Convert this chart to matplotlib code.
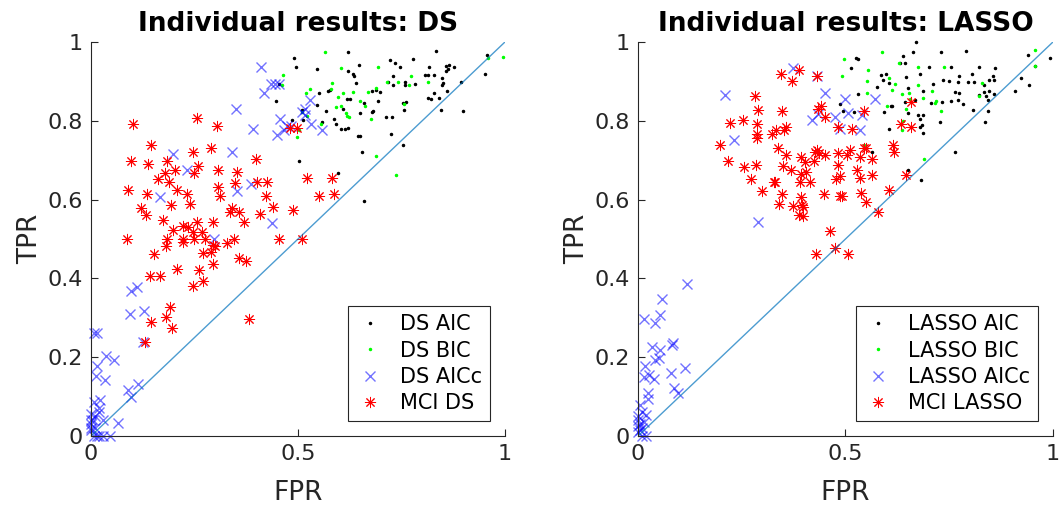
import numpy as np
import matplotlib
matplotlib.use('Agg')
import matplotlib.pyplot as plt

# ---------------- DS panel ----------------
ds_aic = [
    (0.491, 0.959), (0.496, 0.936), (0.622, 0.976), (0.547, 0.932), (0.647, 0.942), (0.622, 0.927),
    (0.634, 0.920), (0.635, 0.914), (0.722, 0.955), (0.735, 0.947), (0.747, 0.937), (0.779, 0.956),
    (0.833, 0.978), (0.816, 0.937), (0.815, 0.917), (0.829, 0.917), (0.858, 0.939), (0.865, 0.942),
    (0.878, 0.937), (0.862, 0.931), (0.857, 0.926), (0.848, 0.910), (0.851, 0.897), (0.849, 0.891),
    (0.894, 0.899), (0.956, 0.968), (0.953, 0.920), (0.729, 0.915), (0.717, 0.898), (0.730, 0.890),
    (0.759, 0.898), (0.758, 0.890), (0.782, 0.893), (0.808, 0.916), (0.448, 0.850), (0.455, 0.893),
    (0.552, 0.871), (0.572, 0.876), (0.578, 0.879), (0.640, 0.895), (0.618, 0.856), (0.627, 0.856),
    (0.660, 0.846), (0.679, 0.876), (0.688, 0.878), (0.699, 0.873), (0.693, 0.850), (0.682, 0.825),
    (0.679, 0.822), (0.649, 0.821), (0.608, 0.829), (0.568, 0.826), (0.546, 0.841), (0.511, 0.827),
    (0.513, 0.802), (0.486, 0.802), (0.559, 0.797), (0.588, 0.806), (0.591, 0.792), (0.605, 0.780),
    (0.614, 0.780), (0.620, 0.782), (0.646, 0.762), (0.650, 0.762), (0.713, 0.809), (0.728, 0.809),
    (0.725, 0.766), (0.754, 0.846), (0.761, 0.849), (0.756, 0.827), (0.828, 0.870), (0.814, 0.859),
    (0.821, 0.856), (0.841, 0.858), (0.861, 0.876), (0.845, 0.828), (0.898, 0.825), (0.754, 0.740),
    (0.656, 0.721), (0.503, 0.699), (0.596, 0.668), (0.659, 0.596),
]
ds_bic = [
    (0.565, 0.975), (0.465, 0.916), (0.461, 0.891), (0.604, 0.934), (0.694, 0.937), (0.773, 0.915),
    (0.815, 0.898), (0.715, 0.898), (0.768, 0.891), (0.583, 0.897), (0.579, 0.880), (0.529, 0.882),
    (0.519, 0.872), (0.609, 0.870), (0.634, 0.873), (0.598, 0.861), (0.604, 0.838), (0.593, 0.836),
    (0.615, 0.819), (0.618, 0.812), (0.624, 0.809), (0.650, 0.851), (0.662, 0.838), (0.676, 0.806),
    (0.688, 0.884), (0.670, 0.874), (0.757, 0.843), (0.743, 0.898), (0.996, 0.961), (0.960, 0.960),
    (0.521, 0.812), (0.509, 0.822), (0.498, 0.760), (0.688, 0.712), (0.738, 0.662), (0.555, 0.792),
    (0.502, 0.778),
]
ds_aicc = [
    (0.411, 0.936), (0.417, 0.871), (0.436, 0.893), (0.454, 0.893), (0.444, 0.893), (0.351, 0.829),
    (0.391, 0.779), (0.457, 0.805), (0.449, 0.763), (0.466, 0.777), (0.474, 0.787), (0.483, 0.788),
    (0.509, 0.822), (0.517, 0.831), (0.529, 0.854), (0.531, 0.791), (0.517, 0.815), (0.559, 0.777),
    (0.199, 0.715), (0.341, 0.720), (0.233, 0.676), (0.167, 0.607), (0.353, 0.623), (0.386, 0.641),
    (0.438, 0.540), (0.297, 0.500), (0.110, 0.379), (0.096, 0.369), (0.093, 0.311), (0.128, 0.318),
    (0.126, 0.239), (0.006, 0.262), (0.014, 0.261), (0.036, 0.203), (0.056, 0.193), (0.015, 0.178),
    (0.012, 0.152), (0.034, 0.142), (0.090, 0.117), (0.114, 0.131), (0.096, 0.100), (0.006, 0.087),
    (0.022, 0.091), (0.066, 0.034), (0.046, 0.0), (0.014, 0.0), (0.006, 0.0), (0.0, 0.015),
    (0.0, 0.030), (0.005, 0.040), (0.010, 0.050), (0.020, 0.060), (0.020, 0.070), (0.0, 0.055),
    (0.0, 0.020), (0.010, 0.020), (0.030, 0.040), (0.0, 0.040), (0.020, 0.0), (0.030, 0.0),
]
ds_mci = [
    (0.101, 0.792), (0.257, 0.808), (0.304, 0.787), (0.145, 0.738), (0.246, 0.722), (0.289, 0.730),
    (0.097, 0.699), (0.138, 0.690), (0.183, 0.698), (0.399, 0.704), (0.163, 0.652), (0.179, 0.668),
    (0.203, 0.675), (0.258, 0.685), (0.250, 0.668), (0.308, 0.675), (0.353, 0.669), (0.090, 0.624),
    (0.136, 0.614), (0.189, 0.646), (0.207, 0.624), (0.233, 0.614), (0.308, 0.631), (0.349, 0.643),
    (0.401, 0.646), (0.426, 0.646), (0.521, 0.656), (0.583, 0.654), (0.120, 0.578), (0.134, 0.561),
    (0.193, 0.586), (0.238, 0.589), (0.312, 0.610), (0.422, 0.610), (0.552, 0.609), (0.587, 0.614),
    (0.173, 0.548), (0.197, 0.523), (0.223, 0.533), (0.234, 0.531), (0.255, 0.544), (0.295, 0.544),
    (0.340, 0.580), (0.336, 0.569), (0.358, 0.569), (0.370, 0.544), (0.408, 0.563), (0.439, 0.582),
    (0.489, 0.574), (0.086, 0.499), (0.183, 0.499), (0.181, 0.482), (0.223, 0.499), (0.223, 0.493),
    (0.247, 0.519), (0.249, 0.499), (0.267, 0.519), (0.275, 0.499), (0.271, 0.465), (0.294, 0.486),
    (0.291, 0.468), (0.300, 0.482), (0.328, 0.489), (0.345, 0.499), (0.455, 0.499), (0.510, 0.500),
    (0.152, 0.461), (0.207, 0.424), (0.262, 0.421), (0.294, 0.437), (0.358, 0.451), (0.374, 0.445),
    (0.143, 0.406), (0.167, 0.406), (0.246, 0.381), (0.271, 0.393), (0.192, 0.327), (0.181, 0.301),
    (0.144, 0.289), (0.196, 0.275), (0.130, 0.239), (0.382, 0.298), (0.481, 0.783), (0.498, 0.783),
]

# ---------------- LASSO panel ----------------
lasso_aic = [
    (0.669, 1.000), (0.639, 0.964), (0.643, 0.948), (0.663, 0.974), (0.632, 0.948), (0.731, 0.975),
    (0.790, 0.977), (0.526, 0.959), (0.531, 0.958), (0.513, 0.935), (0.941, 0.968), (0.992, 0.960),
    (0.957, 0.939), (0.701, 0.938), (0.755, 0.937), (0.823, 0.937), (0.861, 0.935), (0.943, 0.892),
    (0.924, 0.908), (0.910, 0.876), (0.586, 0.917), (0.598, 0.919), (0.590, 0.903), (0.605, 0.896),
    (0.647, 0.911), (0.679, 0.918), (0.735, 0.903), (0.749, 0.901), (0.773, 0.915), (0.771, 0.899),
    (0.806, 0.918), (0.810, 0.898), (0.795, 0.898), (0.845, 0.903), (0.856, 0.914), (0.859, 0.903),
    (0.833, 0.892), (0.846, 0.877), (0.833, 0.873), (0.839, 0.862), (0.844, 0.852), (0.859, 0.869),
    (0.530, 0.869), (0.576, 0.886), (0.651, 0.884), (0.687, 0.875), (0.711, 0.893), (0.763, 0.873),
    (0.773, 0.872), (0.733, 0.848), (0.755, 0.850), (0.771, 0.852), (0.783, 0.842), (0.822, 0.865),
    (0.807, 0.827), (0.843, 0.824), (0.837, 0.797), (0.613, 0.839), (0.611, 0.837), (0.593, 0.822),
    (0.643, 0.848), (0.667, 0.854), (0.651, 0.820), (0.676, 0.814), (0.687, 0.814), (0.680, 0.805),
    (0.685, 0.789), (0.679, 0.784), (0.687, 0.770), (0.605, 0.779), (0.729, 0.797), (0.486, 0.844),
    (0.494, 0.824), (0.520, 0.822), (0.763, 0.721), (0.683, 0.649), (0.651, 0.675), (0.563, 0.721),
    (0.707, 0.845),
]
lasso_bic = [
    (0.588, 0.974), (0.496, 0.958), (0.956, 0.981), (0.956, 0.940), (0.491, 0.915), (0.554, 0.928),
    (0.630, 0.948), (0.675, 0.937), (0.737, 0.937), (0.553, 0.901), (0.605, 0.910), (0.620, 0.894),
    (0.675, 0.891), (0.708, 0.876), (0.719, 0.850), (0.731, 0.824), (0.716, 0.846), (0.687, 0.858),
    (0.637, 0.869), (0.613, 0.879), (0.653, 0.872), (0.647, 0.831), (0.552, 0.872), (0.830, 0.897),
    (0.823, 0.862), (0.600, 0.839), (0.637, 0.776), (0.639, 0.800), (0.546, 0.738), (0.689, 0.702),
    (0.655, 0.856),
]
lasso_aicc = [
    (0.373, 0.935), (0.431, 0.915), (0.209, 0.867), (0.451, 0.871), (0.500, 0.856), (0.572, 0.856),
    (0.232, 0.751), (0.420, 0.803), (0.435, 0.818), (0.476, 0.810), (0.506, 0.821), (0.540, 0.814),
    (0.488, 0.780), (0.534, 0.776), (0.289, 0.544), (0.118, 0.387), (0.059, 0.347), (0.054, 0.306),
    (0.014, 0.296), (0.042, 0.286), (0.034, 0.225), (0.052, 0.218), (0.084, 0.237), (0.082, 0.231),
    (0.042, 0.193), (0.050, 0.197), (0.016, 0.179), (0.014, 0.150), (0.027, 0.155), (0.038, 0.146),
    (0.080, 0.159), (0.113, 0.172), (0.088, 0.123), (0.097, 0.108), (0.024, 0.110), (0.024, 0.093),
    (0.004, 0.079), (0.020, 0.053), (0.0, 0.040), (0.005, 0.030), (0.010, 0.020), (0.0, 0.010),
    (0.010, 0.0), (0.020, 0.0), (0.0, 0.050), (0.010, 0.060), (0.005, 0.015), (0.0, 0.025),
    (0.015, 0.035),
]
lasso_mci = [
    (0.345, 0.920), (0.388, 0.930), (0.371, 0.901), (0.431, 0.913), (0.282, 0.862), (0.289, 0.828),
    (0.347, 0.824), (0.222, 0.795), (0.253, 0.803), (0.286, 0.793), (0.288, 0.768), (0.286, 0.757),
    (0.324, 0.768), (0.333, 0.776), (0.353, 0.776), (0.357, 0.784), (0.198, 0.740), (0.217, 0.698),
    (0.255, 0.683), (0.284, 0.687), (0.273, 0.653), (0.300, 0.621), (0.327, 0.645), (0.331, 0.645),
    (0.348, 0.615), (0.341, 0.590), (0.373, 0.583), (0.395, 0.586), (0.398, 0.582), (0.388, 0.560),
    (0.398, 0.558), (0.394, 0.607), (0.337, 0.732), (0.356, 0.713), (0.392, 0.708), (0.402, 0.696),
    (0.426, 0.721), (0.431, 0.725), (0.436, 0.719), (0.452, 0.713), (0.482, 0.719), (0.504, 0.713),
    (0.512, 0.725), (0.534, 0.708), (0.546, 0.730), (0.565, 0.704), (0.614, 0.738), (0.616, 0.721),
    (0.482, 0.687), (0.488, 0.660), (0.478, 0.653), (0.528, 0.675), (0.534, 0.656), (0.565, 0.662),
    (0.394, 0.666), (0.404, 0.670), (0.390, 0.645), (0.414, 0.645), (0.369, 0.675), (0.349, 0.685),
    (0.424, 0.698), (0.448, 0.615), (0.488, 0.609), (0.492, 0.609), (0.537, 0.617), (0.550, 0.594),
    (0.606, 0.624), (0.645, 0.662), (0.578, 0.569), (0.462, 0.520), (0.474, 0.478), (0.428, 0.461),
    (0.506, 0.461), (0.434, 0.831), (0.442, 0.839), (0.451, 0.810), (0.482, 0.784), (0.516, 0.779),
    (0.545, 0.824), (0.549, 0.732), (0.633, 0.793), (0.659, 0.784), (0.659, 0.848),
]

panels = [
    ('Individual results: DS', ['DS AIC', 'DS BIC', 'DS AICc', 'MCI DS'],
     [ds_aic, ds_bic, ds_aicc, ds_mci]),
    ('Individual results: LASSO', ['LASSO AIC', 'LASSO BIC', 'LASSO AICc', 'MCI LASSO'],
     [lasso_aic, lasso_bic, lasso_aicc, lasso_mci]),
]
ticks_x = [0, 0.5, 1]
ticks_y = [0, 0.2, 0.4, 0.6, 0.8, 1]

plt.rcParams['font.family'] = ['DejaVu Sans']
fig = plt.figure(figsize=(10.61, 5.05), dpi=100)
fig.set_facecolor('w')
axes = [fig.add_axes([0.0858, 0.1366, 0.390, 0.780]),
        fig.add_axes([0.6013, 0.1366, 0.391, 0.780])]

styles = [dict(marker='.', color='k', markersize=3),
          dict(marker='.', color=(0, 1, 0), markersize=3),
          dict(marker='x', color='b', markersize=6.5, alpha=0.55, markeredgewidth=1.0),
          dict(marker=(8, 2, 0), color='r', markersize=8, markeredgewidth=0.7)]
dark = '#262626'

for ax, (title, names, series) in zip(axes, panels):
    for pts, name, st in zip(series, names, styles):
        arr = np.array(pts)
        ax.plot(arr[:, 0], arr[:, 1], linestyle='none', label=name, clip_on=False, **st)
    ax.plot([0, 1], [0, 1], color=(0, 0.447, 0.741), lw=1, alpha=0.7)

    ax.set_xlim(0, 1)
    ax.set_ylim(0, 1)
    ax.set_xticks(ticks_x)
    ax.set_xticklabels(['0', '0.5', '1'])
    ax.set_yticks(ticks_y)
    ax.set_yticklabels(['0', '0.2', '0.4', '0.6', '0.8', '1'])
    ax.spines['top'].set_visible(False)
    ax.spines['right'].set_visible(False)
    for s in ['left', 'bottom']:
        ax.spines[s].set_color(dark)
        ax.spines[s].set_linewidth(0.8)
    ax.tick_params(direction='in', length=5, width=0.8, colors=dark, labelsize=16, pad=6)
    ax.set_xlabel('FPR', fontsize=19, color=dark, labelpad=11)
    ax.set_ylabel('TPR', fontsize=19, color=dark, labelpad=3)
    ax.set_title(title, fontsize=19, fontweight='bold', pad=8)

    leg = ax.legend(loc='lower right', fontsize=15, fancybox=False, framealpha=1,
                    edgecolor=dark, borderaxespad=0.7, handletextpad=0.8,
                    labelspacing=0.3, handlelength=1.3, borderpad=0.4)
    leg.get_frame().set_linewidth(0.8)

fig.savefig('out.png', dpi=100)
